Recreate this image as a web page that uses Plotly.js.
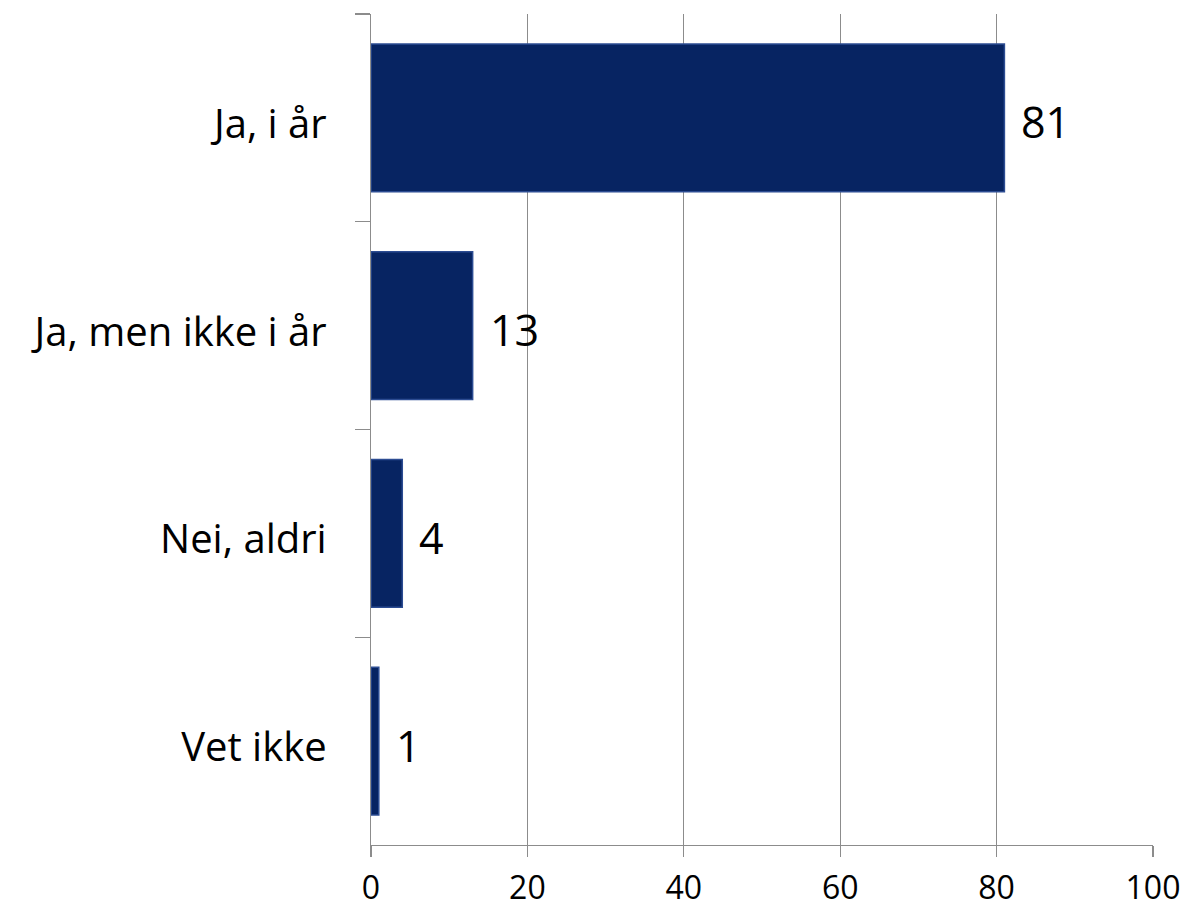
<!DOCTYPE html>
<html>
<head>
<meta charset="utf-8">
<script src="https://cdn.plot.ly/plotly-3.0.1.min.js"></script>
<style>html,body{margin:0;padding:0;background:#fff;}#chart{width:1184px;height:907px;}</style>
</head>
<body>
<div id="chart"></div>
<script>
const categories = ["Ja, i år", "Ja, men ikke i år", "Nei, aldri", "Vet ikke"];
const values = [81, 13, 4, 1];
const xTicks = [0, 20, 40, 60, 80, 100];

const FONT = "'Open Sans', 'Liberation Sans', sans-serif";

const trace = {
  type: 'bar',
  orientation: 'h',
  y: categories,
  x: values,
  marker: { color: '#072462', line: { color: '#2c4c92', width: 1.5 } },
  hoverinfo: 'none'
};

const annotations = values.map((v, i) => ({
  x: v, y: categories[i], xref: 'x', yref: 'y',
  text: String(v), showarrow: false, xanchor: 'left', yanchor: 'middle',
  xshift: 15, yshift: -4,
  font: { family: FONT, size: 43, color: '#000' }
}));

const layout = {
  width: 1184, height: 907,
  margin: { l: 371, r: 31, t: 14, b: 62, pad: 0 },
  paper_bgcolor: '#fff', plot_bgcolor: '#fff',
  showlegend: false,
  bargap: 0.29,
  font: { family: FONT, size: 40, color: '#000' },
  xaxis: {
    range: [0, 100], tickvals: xTicks, ticktext: xTicks.map(String),
    showgrid: true, gridcolor: '#8c8c8c', gridwidth: 1.3,
    zeroline: false, showline: true, linecolor: '#8c8c8c', linewidth: 1.3,
    ticks: 'outside', ticklen: 11, tickcolor: '#8c8c8c', tickwidth: 1.3,
    ticklabeloverflow: 'allow', ticklabelstandoff: 3,
    tickfont: { family: FONT, size: 32, color: '#000' },
    fixedrange: true
  },
  yaxis: {
    type: 'category', autorange: 'reversed',
    showline: true, linecolor: '#8c8c8c', linewidth: 1.3,
    ticks: 'outside', ticklen: 15, tickcolor: '#8c8c8c', tickwidth: 1.3,
    tickson: 'boundaries', showgrid: false, zeroline: false,
    ticklabelstandoff: 35, ticklabelshift: -6,
    tickfont: { family: FONT, size: 40, color: '#000' },
    fixedrange: true
  },
  annotations: annotations
};

Plotly.newPlot('chart', [trace], layout, { staticPlot: true, displayModeBar: false });
</script>
</body>
</html>
